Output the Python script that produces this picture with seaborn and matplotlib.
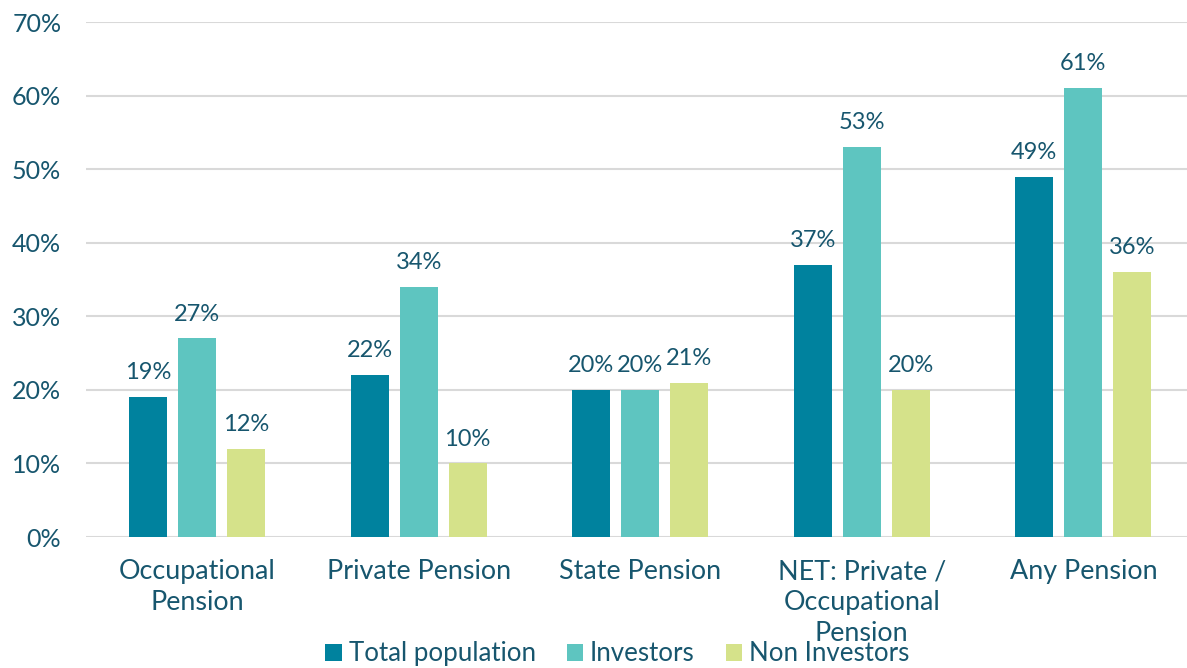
import pandas as pd
import matplotlib.pyplot as plt
import seaborn as sns

# chart values
categories = ["Occupational\nPension", "Private Pension", "State Pension",
              "NET: Private /\nOccupational\nPension", "Any Pension"]
groups = ["Total population", "Investors", "Non Investors"]
total_population = [19, 22, 20, 37, 49]
investors = [27, 34, 20, 53, 61]
non_investors = [12, 10, 21, 20, 36]
colors = ["#00829e", "#5ec5c0", "#d5e28a"]
text_color = "#17566e"

rows = []
for grp, vals in zip(groups, [total_population, investors, non_investors]):
    for cat, v in zip(categories, vals):
        rows.append({"category": cat, "group": grp, "value": v})
df = pd.DataFrame(rows)

sns.set_style("white")
plt.rcParams['font.family'] = ['Lato', 'DejaVu Sans']

fig = plt.figure(figsize=(11.87, 6.68), dpi=100)
ax = fig.add_axes([0.0727, 0.196, 0.9333, 0.771])

sns.barplot(data=df, x="category", y="value", hue="group", palette=colors,
            width=0.663, gap=0.22, ax=ax, legend=True, saturation=1, linewidth=0)

for cont in ax.containers:
    ax.bar_label(cont, labels=[f"{v:.0f}%" for v in cont.datavalues],
                 padding=10, fontsize=17, color=text_color)

ax.set_ylim(0, 70)
ax.set_xlim(-0.5, 4.5)
ax.set_yticks(range(0, 71, 10))
ax.set_yticklabels([f"{t}%" for t in range(0, 71, 10)])
ax.yaxis.grid(True, color="#d9d9d9", linewidth=1.5)
ax.set_axisbelow(True)
sns.despine(ax=ax, left=True, bottom=True)
ax.tick_params(axis="both", length=0, labelcolor=text_color)
ax.tick_params(axis="x", pad=16, labelsize=19.4)
ax.tick_params(axis="y", pad=18, labelsize=18)
for lbl in ax.get_xticklabels():
    lbl.set_linespacing(1.3)
ax.set_xlabel("")
ax.set_ylabel("")

handles, labels = ax.get_legend_handles_labels()
ax.get_legend().remove()
fig.legend(handles, labels, loc="center", bbox_to_anchor=(0.52, 0.021), ncol=3,
           frameon=False, fontsize=18.6, labelcolor=text_color,
           handlelength=0.65, handleheight=0.65, handletextpad=0.25, columnspacing=1.2)

fig.savefig("out.png", dpi=100)
